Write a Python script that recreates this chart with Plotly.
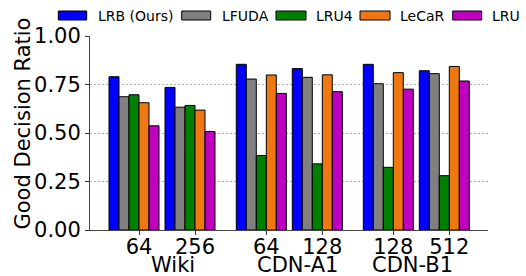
import plotly.graph_objects as go

# ---- data ----
series_names = ["LRB (Ours)", "LFUDA", "LRU4", "LeCaR", "LRU"]
series_colors = ["#0000ff", "#808080", "#008000", "#f07812", "#c000c0"]
tick_labels = ["64", "256", "64", "128", "128", "512"]
group_names = ["Wiki", "CDN-A1", "CDN-B1"]

lrb   = [0.790, 0.735, 0.854, 0.832, 0.854, 0.821]
lfuda = [0.687, 0.633, 0.778, 0.787, 0.754, 0.806]
lru4  = [0.697, 0.642, 0.384, 0.341, 0.323, 0.280]
lecar = [0.656, 0.618, 0.799, 0.800, 0.811, 0.843]
lru   = [0.537, 0.508, 0.704, 0.713, 0.726, 0.768]
values = [lrb, lfuda, lru4, lecar, lru]

# ---- layout constants (bar-width units) ----
centers = [2.5, 8.1, 15.23, 20.83, 27.93, 33.53]
group_label_x = [6.35, 18.85, 30.35]

W, H = 526, 276
ML, MR, MT, MB = 90, 38, 36, 46
PW = W - ML - MR
PH = H - MT - MB


def px_x(px):
    return (px - ML) / PW


def px_y(py):
    return (H - MB - py) / PH


FONT = "DejaVu Sans"

fig = go.Figure()
for name, color, vals in zip(series_names, series_colors, values):
    fig.add_trace(go.Bar(
        x=centers, y=vals, name=name,
        marker=dict(color=color, line=dict(color="#000000", width=1)),
        showlegend=False,
    ))

annotations = []
shapes = []

# group labels
for gx, gname in zip(group_label_x, group_names):
    annotations.append(dict(
        x=gx, y=px_y(265), xref="x", yref="paper", text=gname,
        showarrow=False, xanchor="center", yanchor="middle",
        font=dict(family=FONT, size=21, color="#000000"),
    ))

# y title
annotations.append(dict(
    x=px_x(22.5), y=px_y(124), xref="paper", yref="paper",
    text="Good Decision Ratio", textangle=-90, showarrow=False,
    xanchor="center", yanchor="middle",
    font=dict(family=FONT, size=21, color="#000000"),
))

# custom legend
sw = [(58.3, 86.7), (181.7, 210.7), (276, 306), (360, 390), (452.7, 481.7)]
tx = [98, 221.5, 315.5, 399.5, 491.7]
for (x0, x1), t, name, color in zip(sw, tx, series_names, series_colors):
    shapes.append(dict(
        type="rect", xref="paper", yref="paper",
        x0=px_x(x0), x1=px_x(x1), y0=px_y(20), y1=px_y(11),
        fillcolor=color, line=dict(color="#000000", width=1),
    ))
    annotations.append(dict(
        x=px_x(t), y=px_y(16), xref="paper", yref="paper", text=name,
        showarrow=False, xanchor="left", yanchor="middle",
        borderpad=0, borderwidth=0,
        font=dict(family=FONT, size=14, color="#000000"),
    ))

fig.update_layout(
    width=W, height=H,
    margin=dict(l=ML, r=MR, t=MT, b=MB, autoexpand=False),
    paper_bgcolor="white", plot_bgcolor="white",
    barmode="group", bargap=1 - 5 / 5.6, bargroupgap=0,
    font=dict(family=FONT, size=21, color="#000000"),
    annotations=annotations, shapes=shapes,
    showlegend=False,
)
fig.update_xaxes(
    range=[-1.9, 37.9],
    tickmode="array", tickvals=[c + 0.5 for c in centers], ticktext=tick_labels,
    ticks="outside", ticklen=4, tickcolor="#333333", tickwidth=1,
    ticklabelstandoff=-6,
    showline=True, linecolor="#444444", linewidth=1,
    showgrid=False, zeroline=False,
    tickfont=dict(family=FONT, size=21, color="#000000"),
)
fig.update_yaxes(
    range=[0, 1],
    tickmode="array", tickvals=[0, 0.25, 0.5, 0.75, 1.0],
    ticktext=["0.00", "0.25", "0.50", "0.75", "1.00"],
    ticks="outside", ticklen=4, tickcolor="#333333", tickwidth=1,
    showline=True, linecolor="#444444", linewidth=1,
    showgrid=True, gridcolor="#b0b0b0", gridwidth=1, griddash="2px,2px",
    zeroline=False,
    tickfont=dict(family=FONT, size=21, color="#000000"),
)

fig.write_html(
    "out.html",
    config={"displayModeBar": False},
    post_script="document.body.style.margin='0';document.body.style.overflow='hidden';",
)
